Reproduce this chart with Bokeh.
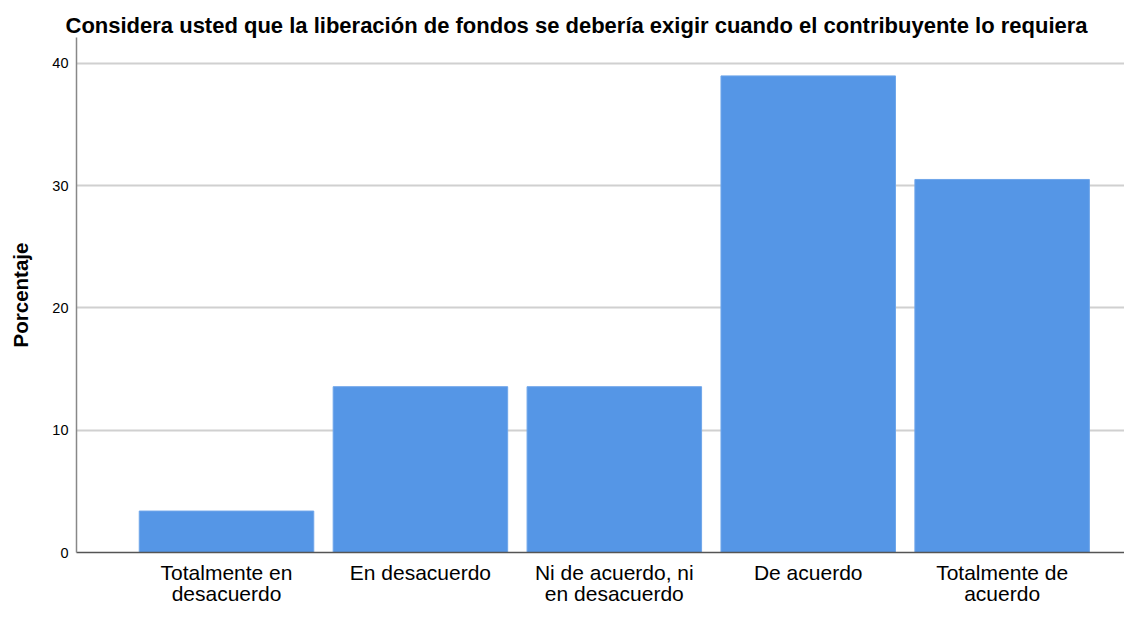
from bokeh.plotting import figure
from bokeh.models import Range1d, FixedTicker, ColumnDataSource
from bokeh.embed import file_html
from bokeh.resources import INLINE

categories = ["Totalmente en\ndesacuerdo", "En desacuerdo", "Ni de acuerdo, ni\nen desacuerdo",
              "De acuerdo", "Totalmente de\nacuerdo"]
percentages = [3.39, 13.56, 13.56, 38.98, 30.51]
y_ticks = [0, 10, 20, 30, 40]

positions = list(range(1, len(categories) + 1))
src = ColumnDataSource(dict(x=positions, top=percentages))

p = figure(output_backend="svg", toolbar_location=None,
           width=1124, height=608,
           min_border_left=76, min_border_right=0, min_border_top=37, min_border_bottom=50,
           x_range=Range1d(0.2264, 5.631), y_range=Range1d(0, 42.12),
           title="Considera usted que la liberación de fondos se debería exigir cuando el contribuyente lo requiera")
p.outline_line_color = None
p.background_fill_color = "white"
p.border_fill_color = "white"

p.title.text_font = "Liberation Sans"
p.title.text_font_size = "22px"
p.title.text_font_style = "bold"
p.title.text_color = "black"
p.title.align = "left"
p.title.offset = -11
p.title.standoff = 0

p.vbar(x="x", top="top", width=0.9, bottom=0, source=src,
       fill_color="#5596e6", line_color="#6fa6ea", line_width=1)

p.xaxis.ticker = FixedTicker(ticks=positions)
p.xaxis.major_label_overrides = {pos: lab for pos, lab in zip(positions, categories)}
p.xaxis.major_tick_out = 0
p.xaxis.major_tick_in = 0
p.xaxis.minor_tick_out = 0
p.xaxis.major_tick_line_color = None
p.xaxis.minor_tick_line_color = None
p.xaxis.major_label_text_font = "Liberation Sans"
p.xaxis.major_label_text_font_size = "21px"
p.xaxis.major_label_text_line_height = 0.95
p.xaxis.major_label_text_color = "black"
p.xaxis.major_label_standoff = 8
p.xaxis.axis_line_color = "#555555"
p.xaxis.axis_line_width = 1.5

p.yaxis.ticker = FixedTicker(ticks=y_ticks)
p.yaxis.major_tick_out = 0
p.yaxis.major_tick_in = 0
p.yaxis.minor_tick_out = 0
p.yaxis.major_tick_line_color = None
p.yaxis.minor_tick_line_color = None
p.yaxis.major_label_text_font = "Liberation Sans"
p.yaxis.major_label_text_font_size = "14.5px"
p.yaxis.major_label_text_color = "black"
p.yaxis.major_label_standoff = 8
p.yaxis.axis_line_color = "#888888"
p.yaxis.axis_line_width = 1.5
p.yaxis.axis_label = "Porcentaje"
p.yaxis.axis_label_text_font = "Liberation Sans"
p.yaxis.axis_label_text_font_size = "20.5px"
p.yaxis.axis_label_text_font_style = "bold"
p.yaxis.axis_label_text_color = "black"
p.yaxis.axis_label_standoff = 17

p.xgrid.grid_line_color = None
p.ygrid.ticker = FixedTicker(ticks=y_ticks[1:])
p.ygrid.grid_line_color = "#d0d0d0"
p.ygrid.grid_line_width = 2

open("out.html", "w").write(file_html(p, INLINE))
